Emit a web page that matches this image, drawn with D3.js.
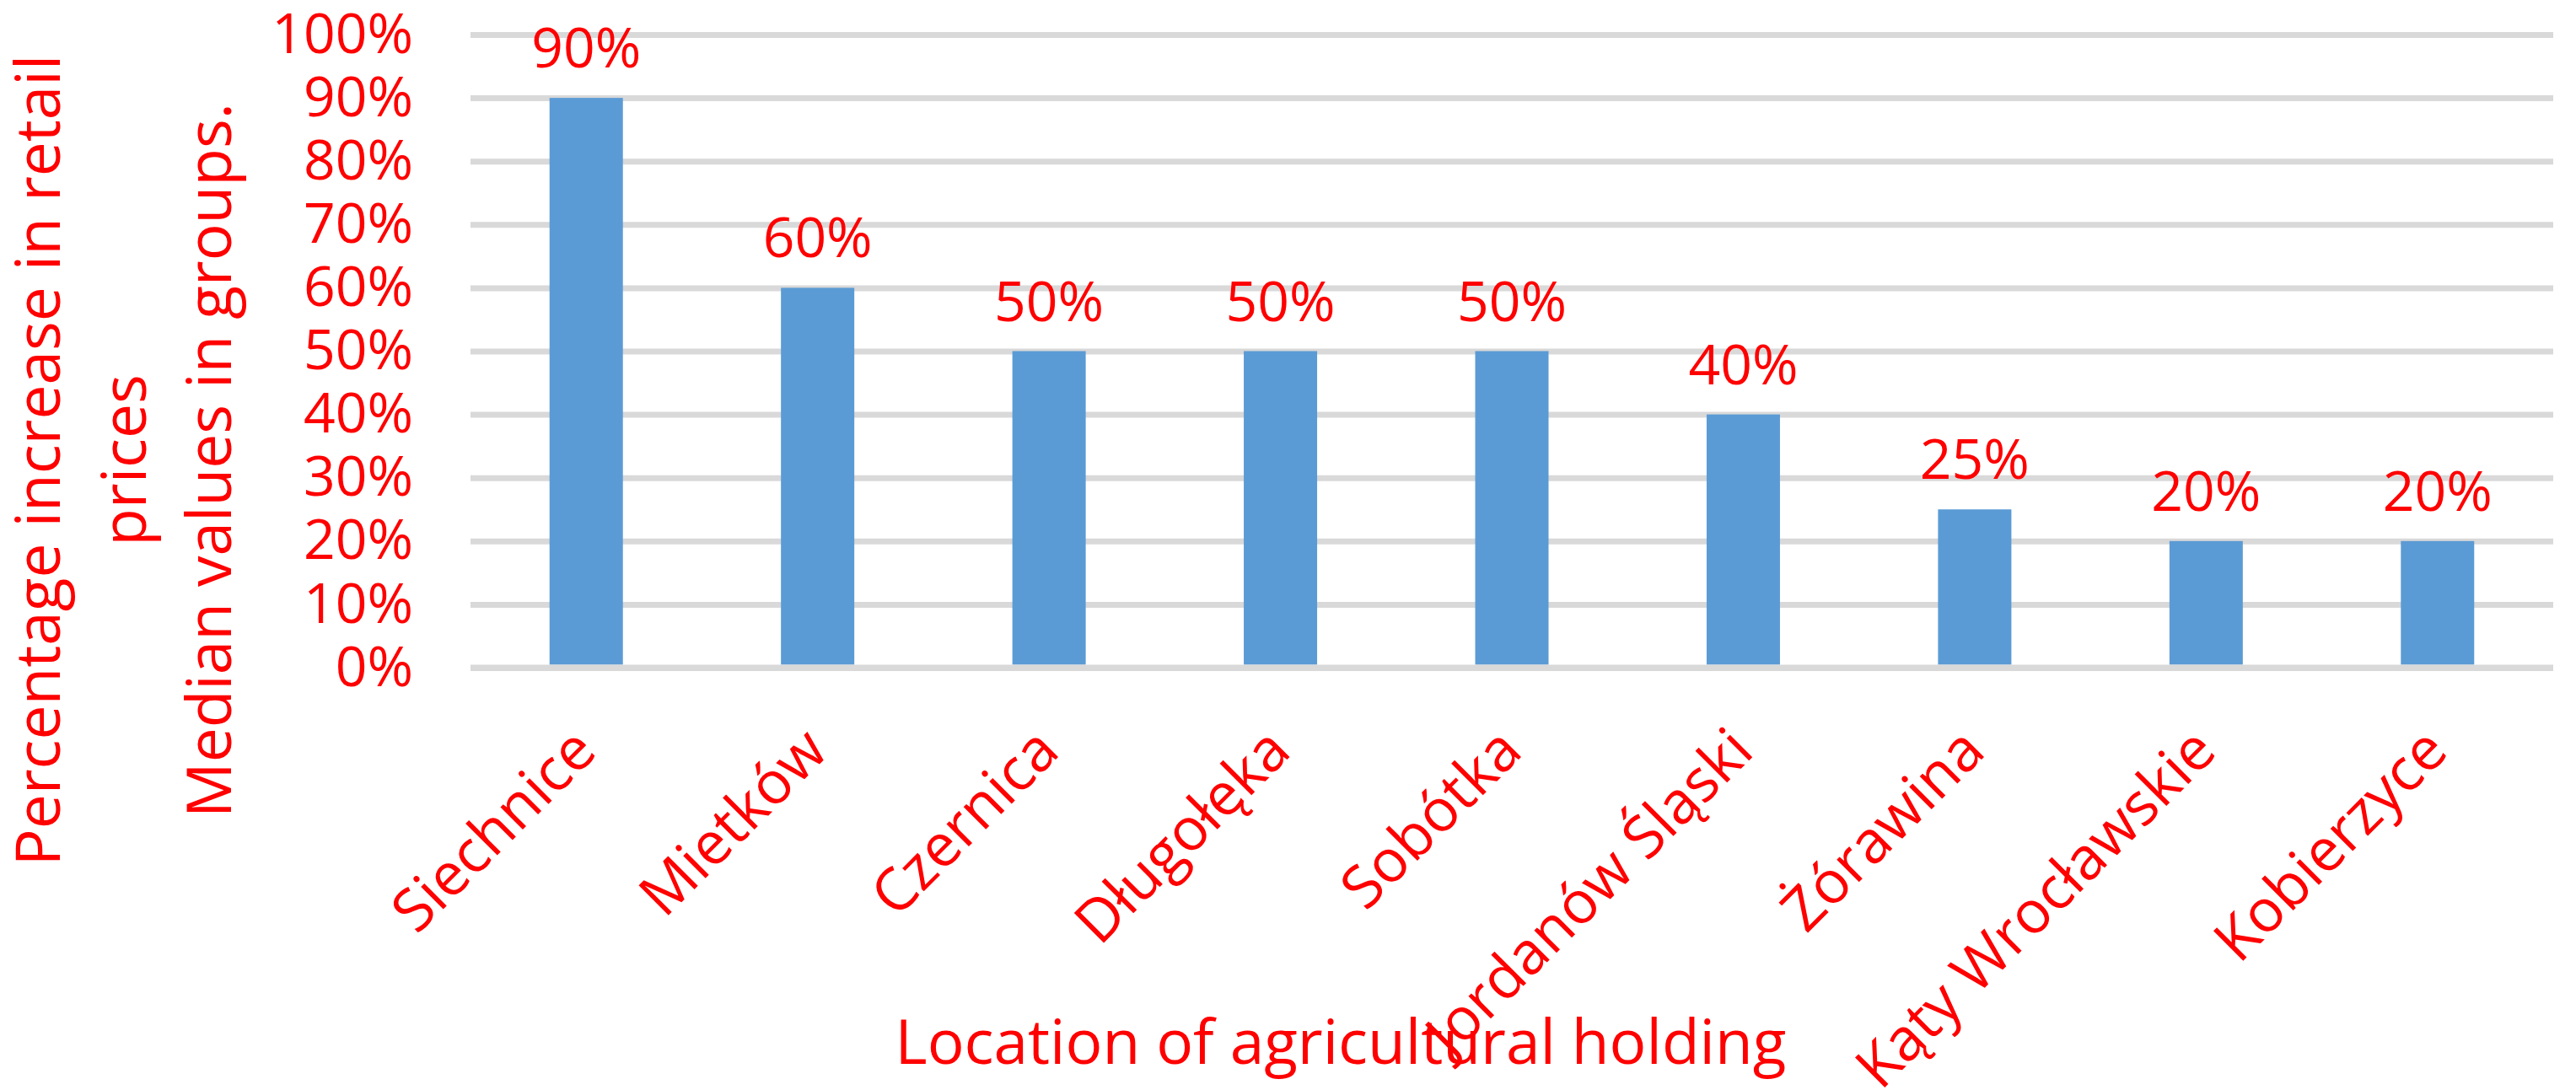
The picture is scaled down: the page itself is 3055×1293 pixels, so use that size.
<!DOCTYPE html>
<html>
<head>
<meta charset="utf-8">
<script src="https://cdn.jsdelivr.net/npm/d3@7"></script>
<style>
  html, body { margin: 0; padding: 0; background: #fff; }
  svg { display: block; font-family: 'Open Sans', sans-serif; }
</style>
</head>
<body>
<div id="chart"></div>
<script>
const categories = ['Siechnice', 'Mietków', 'Czernica', 'Długołęka', 'Sobótka',
  'Jordanów Śląski', 'Żórawina', 'Kąty Wrocławskie', 'Kobierzyce'];
const medians = [0.90, 0.60, 0.50, 0.50, 0.50, 0.40, 0.25, 0.20, 0.20];
const yTicks = [0, 0.1, 0.2, 0.3, 0.4, 0.5, 0.6, 0.7, 0.8, 0.9, 1.0];
const yTitle = ['Percentage increase in retail', 'prices', 'Median values in groups.'];
const xTitle = 'Location of agricultural holding';

const width = 3055, height = 1293;
const plot = {l: 558, r: 3028, t: 41, b: 792};
const red = '#ff0000', blue = '#5b9bd5', grid = '#d9d9d9';

const svg = d3.select('#chart').append('svg')
  .attr('width', width)
  .attr('height', height);

svg.append('rect').attr('width', width).attr('height', height).attr('fill', '#fff');

let x = d3.scaleBand()
  .domain(categories)
  .range([plot.l, plot.r])
  .paddingInner(0.683)
  .paddingOuter(0.3415);

let y = d3.scaleLinear()
  .domain([0, 1])
  .range([plot.b, plot.t]);

const pct = d3.format('.0%');

// y axis + gridlines
let axisY = d3.axisLeft(y)
  .tickValues(yTicks)
  .tickFormat(pct)
  .tickSize(-(plot.r - plot.l))
  .tickPadding(68);

let gy = svg.append('g')
  .attr('transform', `translate(${plot.l}, 0)`)
  .call(axisY);
gy.select('.domain').remove();
gy.selectAll('.tick line').attr('stroke', grid).attr('stroke-width', 7);
gy.selectAll('.tick text')
  .attr('fill', red)
  .attr('font-family', "'Open Sans', sans-serif")
  .attr('font-size', 66);

// bars
svg.append('g').selectAll('rect')
  .data(medians)
  .join('rect')
  .attr('x', (d, i) => x(categories[i]))
  .attr('y', d => y(d))
  .attr('width', x.bandwidth())
  .attr('height', d => y(0) - y(d) - 3.5)
  .attr('fill', blue);

// baseline on top of bars
svg.append('line')
  .attr('x1', plot.l).attr('x2', plot.r)
  .attr('y1', y(0)).attr('y2', y(0))
  .attr('stroke', grid).attr('stroke-width', 7);

// data labels
svg.append('g').selectAll('text')
  .data(medians)
  .join('text')
  .attr('x', (d, i) => x(categories[i]) + x.bandwidth() / 2)
  .attr('y', d => y(d) - 36)
  .attr('text-anchor', 'middle')
  .attr('fill', red)
  .attr('font-size', 66)
  .text(d => pct(d));

// x axis labels
let axisX = d3.axisBottom(x).tickSize(0);
let gx = svg.append('g')
  .attr('transform', `translate(0, ${plot.b})`)
  .call(axisX);
gx.select('.domain').remove();
gx.selectAll('.tick text')
  .attr('y', 0).attr('dy', 0)
  .attr('text-anchor', 'end')
  .attr('transform', 'translate(15, 102) rotate(-45)')
  .attr('fill', red)
  .attr('font-family', "'Open Sans', sans-serif")
  .attr('font-size', 70);

// axis titles
let yt = svg.append('g')
  .attr('transform', 'translate(0, 546) rotate(-90)');
yt.selectAll('text')
  .data(yTitle)
  .join('text')
  .attr('x', 0)
  .attr('y', (d, i) => 71 + i * 101.5)
  .attr('text-anchor', 'middle')
  .attr('fill', red)
  .attr('font-size', 73)
  .text(d => d);

svg.append('text')
  .attr('x', 1590)
  .attr('y', 1262)
  .attr('text-anchor', 'middle')
  .attr('fill', red)
  .attr('font-size', 73)
  .text(xTitle);
</script>
</body>
</html>
